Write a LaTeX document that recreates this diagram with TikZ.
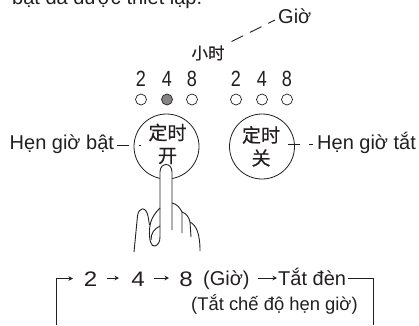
\documentclass[tikz,border=0pt]{standalone}
\usepackage{fontspec}
\setmainfont{Liberation Sans}
\newfontfamily\cjk[RawFeature={embolden=0.4}]{Noto Sans CJK SC}
\usetikzlibrary{arrows.meta}
\definecolor{ink}{HTML}{231F20}
\tikzset{
 lbl/.style={font=\fontsize{20}{22}\selectfont,text=ink,inner sep=0pt},
 cjkbtn/.style={font=\cjk\fontsize{19}{22}\selectfont,text=ink,inner sep=0pt},
 digit/.style={font=\fontsize{22}{24}\selectfont,text=ink,inner sep=0pt},
 wide/.style={font=\fontsize{21}{23}\selectfont,text=ink,inner sep=0pt},
 led/.style={circle,draw=ink,line width=.7pt,minimum size=11pt,inner sep=0pt},
 btn/.style={circle,draw=ink,line width=.8pt,minimum size=65pt,inner sep=0pt},
 ln/.style={draw=ink,line width=.9pt},
 arr/.style={draw=ink,line width=.7pt,-{Stealth[length=4.5pt,width=4.5pt]}}
}
\begin{document}
\begin{tikzpicture}[x=1pt,y=-1pt]
\useasboundingbox (0,0) rectangle (419,325);
\begin{scope}
\clip (0,0) rectangle (419,325);
\node[lbl,anchor=base west] (top) at (12,4) {bật đã được thiết lập.};
\end{scope}
\node[lbl,anchor=base west] (gio) at (278,23) {Giờ};
\coordinate (g1) at (231.5,41.5);
\coordinate (g2) at (275,20);
\draw[ln,dash pattern=on 13pt off 7.5pt] (g1) -- (g2);
\node[font=\cjk\fontsize{16.5}{18}\selectfont,text=ink,inner sep=0pt] (xs) at (208,53) {小时};
\foreach \n/\x/\d in {a/141/2,b/167/4,c/192/8,d/236/2,e/262/4,f/287/8}{
 \node[digit] (t\n) at (\x,78.5) {\scalebox{.82}[1]{\d}};
}
\foreach \n/\x in {a/141,c/192,d/236,e/262,f/287}{
 \node[led] (l\n) at (\x,99.5) {};
}
\node[led,fill=ink!55] (lb) at (167,99.5) {};
\node[btn] (on) at (166.5,146.5) {};
\node[btn] (off) at (262,146.5) {};
\node[cjkbtn] (ont) at (167.5,132.5) {定时};
\node[cjkbtn] (onb) at (167.5,156) {开};
\node[cjkbtn] (offt) at (261,135) {定时};
\node[cjkbtn] (offb) at (261,158) {关};
\node[lbl,anchor=base west] (hon) at (9.5,149.5) {Hẹn giờ bật};
\node[lbl,anchor=base west] (hoff) at (317,149.5) {Hẹn giờ tắt};
\coordinate (da) at (117,145);
\coordinate (db) at (141,145);
\coordinate (dc) at (288,144);
\coordinate (dd) at (313,144);
\draw[ln,dash pattern=on 12pt off 10pt on 2pt off 9pt] (da) -- (db);
\draw[ln,dash pattern=on 12pt off 9pt on 4pt off 9pt] (dc) -- (dd);
% finger
\fill[white] (160,225) -- (160,172) .. controls (160,162) and (172,162) .. (172,172) -- (172,231) -- cycle;
\draw[ln] (160,237) -- (160,172) .. controls (160,162) and (172,162) .. (172,172) -- (172,230);
% hand
\draw[ln] (134,252) -- (137.5,216) .. controls (138.5,207) and (146,206) .. (148,216) -- (149.5,225);
\draw[ln] (160,208) .. controls (153,215) and (150,221) .. (149.5,230)
 .. controls (149,240) and (151,247) .. (155,246) .. controls (158,245) and (160,242) .. (160,237);
\draw[ln] (160,226) .. controls (154,229) and (151,233) .. (151,240);
\draw[ln] (172,203) .. controls (177,204) and (180,208) .. (182,212) -- (182,233);
\draw[ln] (182,212) .. controls (186,213) and (189,217) .. (190,222) -- (191,237);
\draw[ln] (190,222) .. controls (196,225) and (200,233) .. (200,251);
% sequence
\node[wide] (n2) at (90.5,279) {\scalebox{1.15}[1]{2}};
\node[wide] (n4) at (138,279) {\scalebox{1.15}[1]{4}};
\node[wide] (n8) at (186,279) {\scalebox{1.15}[1]{8}};
\node[lbl,anchor=base west] (par) at (203,285) {(Giờ)};
\node[lbl,anchor=base west] (off2) at (278,285) {Tắt đèn};
\node[lbl,anchor=base west,font=\fontsize{18.4}{20}\selectfont] (par2) at (191,310) {(Tắt chế độ hẹn giờ)};
\draw[arr] (107,278) -- (119,278);
\draw[arr] (154,278) -- (169,278);
\draw[arr] (258,278) -- (277,278);
\coordinate (c3) at (348,278);
\coordinate (c4) at (373,278);
\coordinate (c5) at (373,325);
\draw[ln] (c3) -- (c4) -- (c5);
\coordinate (c1) at (56,325);
\coordinate (c2) at (56,278.5);
\coordinate (c6) at (73,278.5);
\draw[ln] (c1) -- (c2);
\draw[arr] (c2) -- (c6);
\end{tikzpicture}
\end{document}
